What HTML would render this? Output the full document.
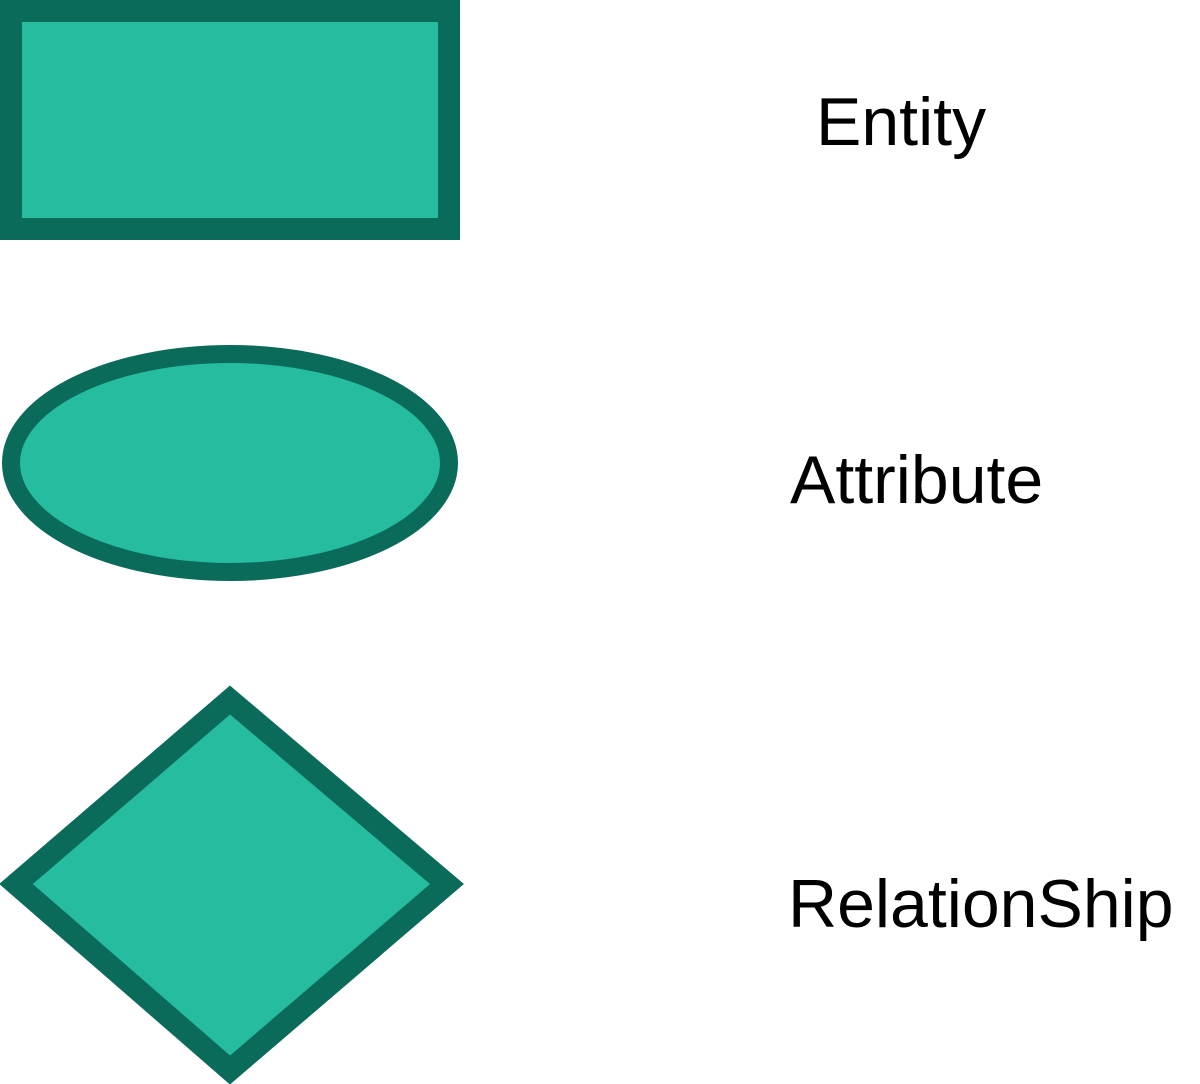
<!DOCTYPE html>
<html><head><meta charset="utf-8"><style>
html,body{margin:0;padding:0;background:#fff;width:1200px;height:1084px;overflow:hidden}
svg{display:block}
text{font-family:"Liberation Sans",Arial,sans-serif;font-size:68px;fill:#000}
</style></head><body>
<svg width="1200" height="1084" viewBox="0 0 1200 1084" xmlns="http://www.w3.org/2000/svg">
<rect x="11" y="11" width="438" height="218" fill="#26bca0" stroke="#0b6b5b" stroke-width="22"/>
<ellipse cx="230" cy="463" rx="219" ry="109" fill="#26bca0" stroke="#0b6b5b" stroke-width="18"/>
<polygon points="230,700 447,884 230,1070 16,884" fill="#26bca0" stroke="#0b6b5b" stroke-width="22"/>
<text x="816" y="145">Entity</text>
<text x="790" y="503">Attribute</text>
<text x="788" y="927">RelationShip</text>
</svg>
</body></html>
